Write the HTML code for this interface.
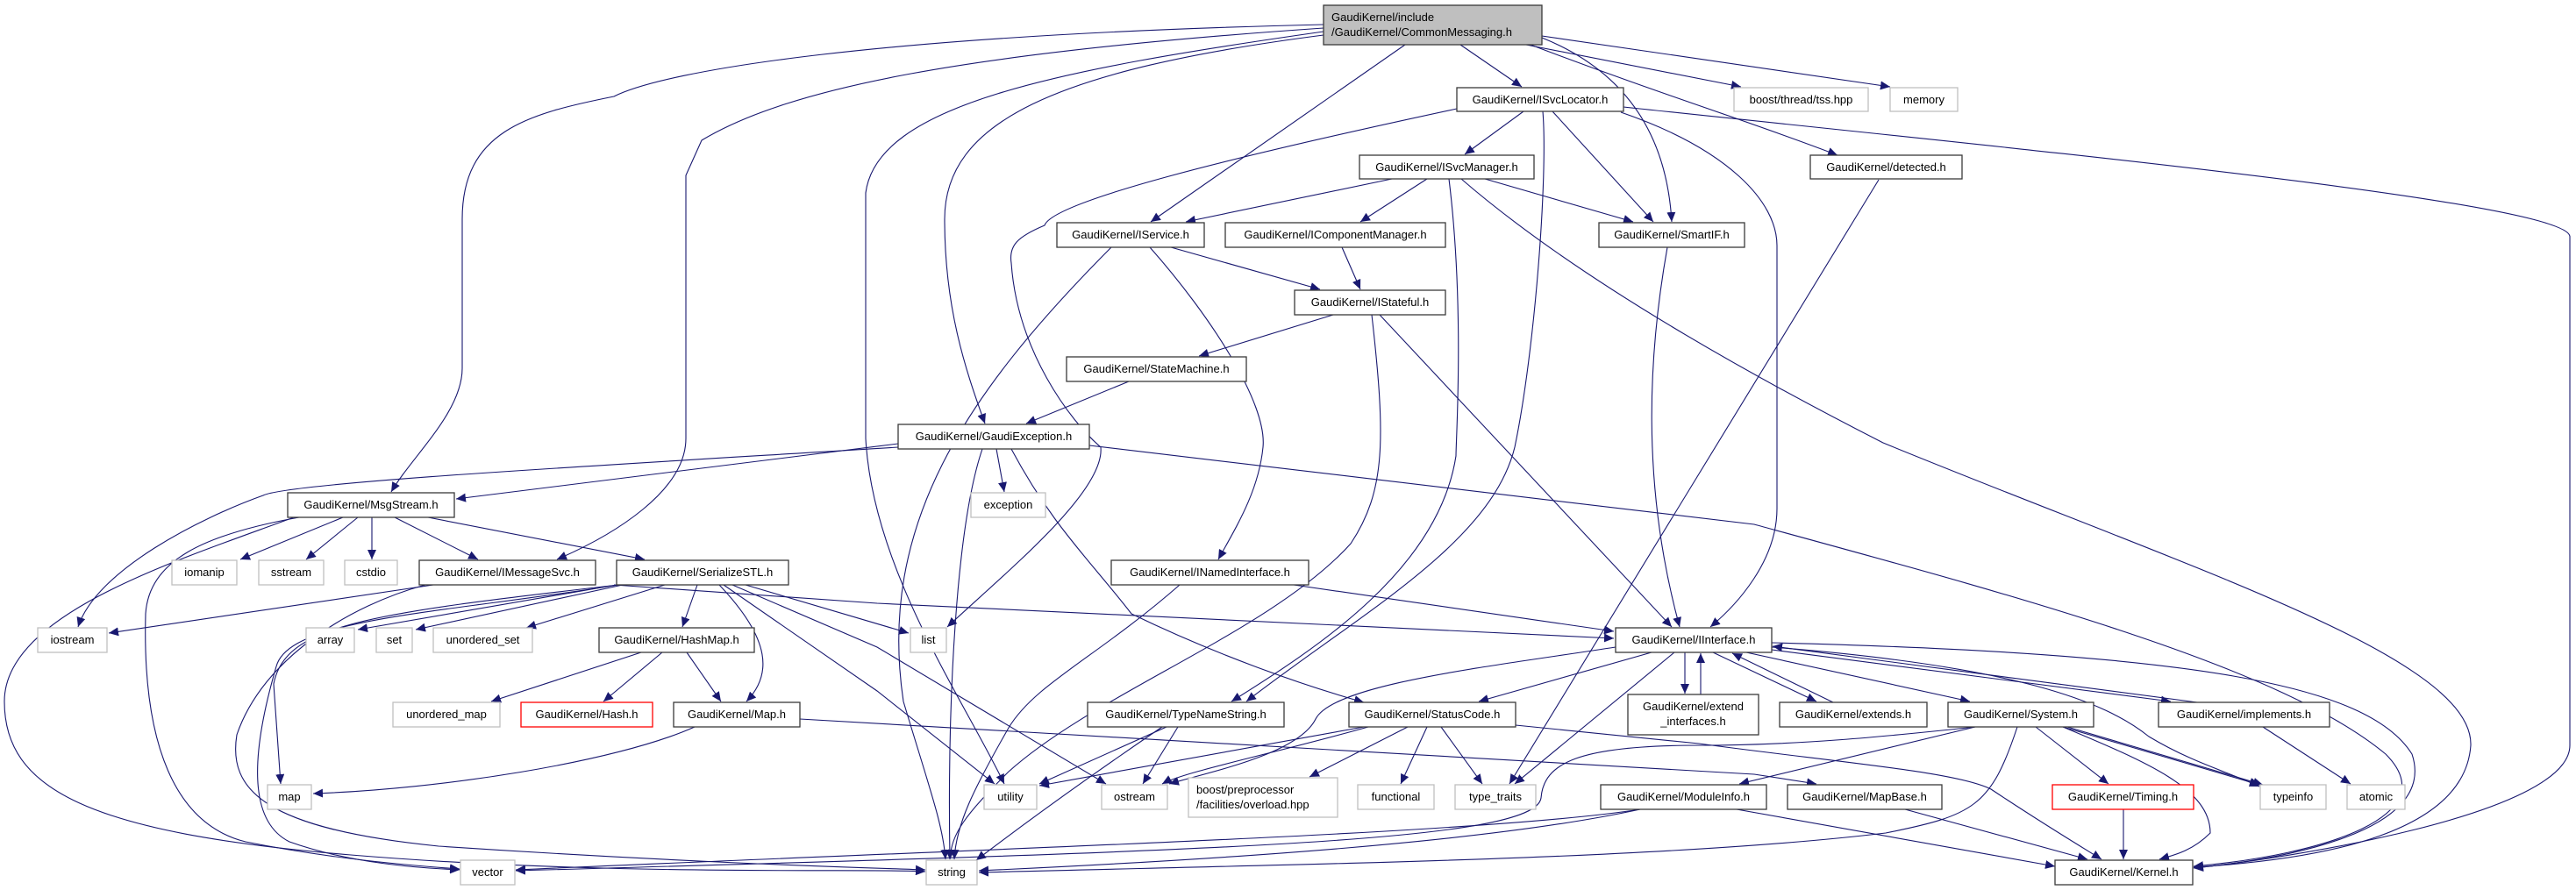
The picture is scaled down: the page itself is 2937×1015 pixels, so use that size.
<!DOCTYPE html>
<html><head><meta charset="utf-8"><style>
html,body{margin:0;padding:0;background:#fff;}
svg{display:block}
text{font-family:"Liberation Sans","DejaVu Sans",sans-serif;font-size:13px;fill:#000}
.n{fill:#fff;stroke:#3a3a3a;stroke-width:1.3}
.g{fill:#fff;stroke:#bfbfbf;stroke-width:1.3}
.r{fill:#fff;stroke:#ff0000;stroke-width:1.3}
.e{fill:none;stroke:#191970;stroke-width:1.1}
</style></head><body>
<svg width="2937" height="1015" viewBox="0 0 2937 1015" xmlns="http://www.w3.org/2000/svg">
<defs><marker id="a" markerUnits="userSpaceOnUse" markerWidth="12" markerHeight="10" refX="11" refY="5" orient="auto"><path d="M0,0 L11,5 L0,10 z" fill="#191970"/></marker></defs>
<g class="e" marker-end="url(#a)">
<path d="M1665,51 L1735,99"/>
<path d="M1602,51 L1312,253"/>
<path d="M1758,43 C1850,80 1900,150 1906,253"/>
<path d="M1740,51 L1985,99"/>
<path d="M1758,41 L2155,99"/>
<path d="M1745,51 C1900,110 2000,140 2095,177"/>
<path d="M1509,40 C1200,80 1077,140 1077,250 C1077,350 1100,420 1123,483"/>
<path d="M1509,28 C1000,40 760,80 700,110 C600,130 527,150 527,250 L527,420 C527,470 470,520 446,561"/>
<path d="M1509,32 C1100,60 900,100 800,160 L782,200 L782,500 C782,560 700,610 635,638"/>
<path d="M1509,36 C1200,80 1000,120 987,220 L987,500 C995,650 1100,800 1145,894"/>
<path d="M1737,127 L1670,176"/>
<path d="M1770,127 L1885,253"/>
<path d="M1848,128 C1970,170 2026,230 2026,280 L2026,580 C2026,640 1980,690 1950,715"/>
<path d="M1851,122 C2300,170 2930,230 2930,270 L2930,850 C2930,930 2600,980 2501,990"/>
<path d="M1661,124 C1400,180 1200,230 1191,257 C1160,270 1150,280 1153,300 C1160,400 1220,480 1255,510 C1260,560 1150,650 1080,715"/>
<path d="M1759,127 C1765,200 1750,400 1727,510 C1700,620 1550,700 1421,800"/>
<path d="M1587,204 L1352,253"/>
<path d="M1627,204 L1551,253"/>
<path d="M1693,204 L1862,253"/>
<path d="M1652,204 C1670,350 1660,500 1660,520 C1640,650 1500,740 1404,800"/>
<path d="M1666,204 C1800,320 2000,430 2147,505 C2500,650 2820,750 2817,850 C2810,950 2650,980 2501,989"/>
<path d="M1335,282 L1505,330"/>
<path d="M1311,282 C1380,360 1445,460 1440,510 C1435,560 1410,600 1389,638"/>
<path d="M1267,282 C1100,450 1000,600 1030,800 C1060,900 1075,940 1078,980"/>
<path d="M1530,282 L1551,330"/>
<path d="M1520,359 L1367,406"/>
<path d="M1564,359 C1580,500 1580,560 1540,620 C1450,720 1250,790 1150,880 C1100,930 1085,950 1083,980"/>
<path d="M1573,359 L1906,715"/>
<path d="M1901,282 C1880,400 1870,550 1915,715"/>
<path d="M2142,205 L1721,894"/>
<path d="M1287,435 L1170,483"/>
<path d="M1024,506 L520,569"/>
<path d="M1024,510 C700,530 330,550 300,565 C230,590 110,650 89,715"/>
<path d="M1136,512 L1145,561"/>
<path d="M1120,512 C1090,600 1080,800 1083,980"/>
<path d="M1153,512 C1200,600 1242,638 1290,700 C1383,745 1480,780 1555,801"/>
<path d="M1242,508 L2000,598 C2300,680 2600,760 2720,860 C2790,930 2650,975 2501,988"/>
<path d="M391,590 L274,638"/>
<path d="M408,590 L349,638"/>
<path d="M424,590 L424,638"/>
<path d="M450,590 L545,638"/>
<path d="M488,590 L735,638"/>
<path d="M341,590 C230,610 170,640 166,700 C162,850 200,940 280,960 C380,980 480,988 524,991"/>
<path d="M335,590 C200,640 5,700 5,800 C5,900 100,950 400,975 C700,1000 1000,990 1055,994"/>
<path d="M494,667 L124,722"/>
<path d="M700,667 L1000,688 L1840,728"/>
<path d="M485,667 C400,690 300,750 270,838 C260,900 300,945 500,965 C800,985 1000,990 1055,992"/>
<path d="M703,667 L408,718"/>
<path d="M710,667 L474,718"/>
<path d="M758,667 L600,716"/>
<path d="M795,667 L778,715"/>
<path d="M820,667 C880,730 880,770 851,800"/>
<path d="M705,667 C500,700 330,705 315,760 C280,880 290,940 330,960 C400,985 480,990 524,992"/>
<path d="M705,667 C420,700 325,712 312,780 L320,894"/>
<path d="M850,667 L1036,722"/>
<path d="M825,667 L1000,788 L1134,894"/>
<path d="M835,667 L1000,738 L1261,894"/>
<path d="M731,744 L560,800"/>
<path d="M755,744 L688,800"/>
<path d="M783,744 L822,800"/>
<path d="M792,829 C700,870 500,900 357,905"/>
<path d="M912,820 L2000,883 L2071,894"/>
<path d="M1475,667 L1840,720"/>
<path d="M1345,667 C1250,750 1180,780 1150,830 C1110,900 1090,940 1088,980"/>
<path d="M1921,744 L1921,791"/>
<path d="M1939,792 L1939,745"/>
<path d="M1953,744 L2071,800"/>
<path d="M2090,801 L1975,745"/>
<path d="M1991,744 L2246,800"/>
<path d="M2505,801 L2021,737"/>
<path d="M2020,741 L2475,800"/>
<path d="M2020,738 C2300,760 2400,800 2450,840 C2500,870 2540,880 2576,897"/>
<path d="M2020,733 C2500,745 2700,780 2750,860 C2780,950 2600,980 2501,990"/>
<path d="M1883,744 L1686,800"/>
<path d="M1842,738 C1700,760 1520,780 1500,820 C1480,860 1380,880 1333,894"/>
<path d="M1909,744 L1727,894"/>
<path d="M1560,829 C1450,860 1350,880 1325,894"/>
<path d="M1555,829 L1185,896"/>
<path d="M1605,829 L1493,886"/>
<path d="M1627,829 L1597,894"/>
<path d="M1643,829 L1690,894"/>
<path d="M1728,827 L1937,848 C2100,870 2230,880 2270,900 C2330,940 2380,970 2396,980"/>
<path d="M1330,829 L1185,894"/>
<path d="M1343,829 L1303,894"/>
<path d="M1325,829 C1250,880 1180,930 1113,981"/>
<path d="M2252,829 L1983,894"/>
<path d="M2300,829 C2270,920 2250,930 2150,950 C1900,980 1500,985 1116,995"/>
<path d="M2321,829 L2404,894"/>
<path d="M2352,829 C2450,870 2520,900 2520,950 C2500,970 2480,975 2462,980"/>
<path d="M2352,829 L2576,895"/>
<path d="M2357,829 L2580,895"/>
<path d="M2252,829 C2150,840 2050,850 1937,850 C1800,850 1760,870 1757,910 C1750,960 1400,970 588,993"/>
<path d="M1870,923 C1700,950 1200,965 588,992"/>
<path d="M1870,923 C1700,960 1400,980 1116,993"/>
<path d="M1980,923 L2343,988"/>
<path d="M2172,923 L2380,980"/>
<path d="M2421,923 L2421,980"/>
<path d="M2580,829 L2680,894"/>
</g>
<rect x="1509" y="6" width="249" height="45" fill="#bfbfbf" stroke="#3a3a3a" stroke-width="1.3"/>
<text x="1518" y="24">GaudiKernel/include</text>
<text x="1518" y="41">/GaudiKernel/CommonMessaging.h</text>
<g text-anchor="middle">
<rect class="n" x="1661" y="100" width="190" height="27"/><text x="1756" y="118">GaudiKernel/ISvcLocator.h</text>
<rect class="n" x="1550" y="177" width="199" height="27"/><text x="1649.5" y="195">GaudiKernel/ISvcManager.h</text>
<rect class="n" x="1205" y="254" width="168" height="28"/><text x="1289" y="272">GaudiKernel/IService.h</text>
<rect class="n" x="1397" y="254" width="251" height="28"/><text x="1522.5" y="272">GaudiKernel/IComponentManager.h</text>
<rect class="n" x="1823" y="254" width="166" height="28"/><text x="1906" y="272">GaudiKernel/SmartIF.h</text>
<rect class="n" x="1476" y="331" width="172" height="28"/><text x="1562" y="349">GaudiKernel/IStateful.h</text>
<rect class="n" x="1216" y="407" width="205" height="28"/><text x="1318.5" y="425">GaudiKernel/StateMachine.h</text>
<rect class="n" x="1024" y="484" width="218" height="28"/><text x="1133" y="502">GaudiKernel/GaudiException.h</text>
<rect class="g" x="1977" y="100" width="153" height="27"/><text x="2053.5" y="118">boost/thread/tss.hpp</text>
<rect class="g" x="2155" y="100" width="77" height="27"/><text x="2193.5" y="118">memory</text>
<rect class="n" x="2064" y="177" width="173" height="27"/><text x="2150.5" y="195">GaudiKernel/detected.h</text>
<rect class="n" x="328" y="562" width="190" height="28"/><text x="423" y="580">GaudiKernel/MsgStream.h</text>
<rect class="g" x="1107" y="562" width="85" height="28"/><text x="1149.5" y="580">exception</text>
<rect class="g" x="196" y="639" width="74" height="28"/><text x="233" y="657">iomanip</text>
<rect class="g" x="295" y="639" width="74" height="28"/><text x="332" y="657">sstream</text>
<rect class="g" x="393" y="639" width="60" height="28"/><text x="423" y="657">cstdio</text>
<rect class="n" x="478" y="639" width="201" height="28"/><text x="578.5" y="657">GaudiKernel/IMessageSvc.h</text>
<rect class="n" x="703" y="639" width="196" height="28"/><text x="801" y="657">GaudiKernel/SerializeSTL.h</text>
<rect class="n" x="1267" y="639" width="225" height="28"/><text x="1379.5" y="657">GaudiKernel/INamedInterface.h</text>
<rect class="g" x="43" y="716" width="79" height="28"/><text x="82.5" y="734">iostream</text>
<rect class="g" x="349" y="716" width="55" height="28"/><text x="376.5" y="734">array</text>
<rect class="g" x="429" y="716" width="41" height="28"/><text x="449.5" y="734">set</text>
<rect class="g" x="494" y="716" width="113" height="28"/><text x="550.5" y="734">unordered_set</text>
<rect class="n" x="683" y="716" width="177" height="28"/><text x="771.5" y="734">GaudiKernel/HashMap.h</text>
<rect class="g" x="1038" y="716" width="41" height="28"/><text x="1058.5" y="734">list</text>
<rect class="n" x="1842" y="716" width="178" height="28"/><text x="1931" y="734">GaudiKernel/IInterface.h</text>
<rect class="n" x="1856" y="792" width="149" height="46"/><text x="1930.5" y="810">GaudiKernel/extend</text><text x="1930.5" y="827">_interfaces.h</text>
<rect class="n" x="2029" y="801" width="168" height="28"/><text x="2113" y="819">GaudiKernel/extends.h</text>
<rect class="n" x="2221" y="801" width="166" height="28"/><text x="2304" y="819">GaudiKernel/System.h</text>
<rect class="n" x="2461" y="801" width="195" height="28"/><text x="2558.5" y="819">GaudiKernel/implements.h</text>
<rect class="n" x="1240" y="801" width="224" height="28"/><text x="1352" y="819">GaudiKernel/TypeNameString.h</text>
<rect class="n" x="1538" y="801" width="190" height="28"/><text x="1633" y="819">GaudiKernel/StatusCode.h</text>
<rect class="g" x="448" y="801" width="122" height="28"/><text x="509" y="819">unordered_map</text>
<rect class="r" x="594" y="801" width="150" height="28"/><text x="669" y="819">GaudiKernel/Hash.h</text>
<rect class="n" x="768" y="801" width="144" height="28"/><text x="840" y="819">GaudiKernel/Map.h</text>
<rect class="g" x="305" y="895" width="50" height="28"/><text x="330" y="913">map</text>
<rect class="g" x="1122" y="895" width="60" height="28"/><text x="1152" y="913">utility</text>
<rect class="g" x="1256" y="895" width="75" height="28"/><text x="1293.5" y="913">ostream</text>
<rect class="g" x="1355" y="887" width="170" height="45"/>
<rect class="g" x="1548" y="895" width="87" height="28"/><text x="1591.5" y="913">functional</text>
<rect class="g" x="1659" y="895" width="92" height="28"/><text x="1705" y="913">type_traits</text>
<rect class="n" x="1825" y="895" width="189" height="28"/><text x="1919.5" y="913">GaudiKernel/ModuleInfo.h</text>
<rect class="n" x="2038" y="895" width="176" height="28"/><text x="2126" y="913">GaudiKernel/MapBase.h</text>
<rect class="r" x="2340" y="895" width="161" height="28"/><text x="2420.5" y="913">GaudiKernel/Timing.h</text>
<rect class="g" x="2577" y="895" width="75" height="28"/><text x="2614.5" y="913">typeinfo</text>
<rect class="g" x="2676" y="895" width="66" height="28"/><text x="2709" y="913">atomic</text>
<rect class="g" x="525" y="981" width="62" height="28"/><text x="556" y="999">vector</text>
<rect class="g" x="1056" y="981" width="58" height="28"/><text x="1085" y="999">string</text>
<rect class="n" x="2343" y="981" width="157" height="28"/><text x="2421.5" y="999">GaudiKernel/Kernel.h</text>
</g>
<text x="1364" y="905">boost/preprocessor</text>
<text x="1364" y="922">/facilities/overload.hpp</text>
</svg>
</body></html>
